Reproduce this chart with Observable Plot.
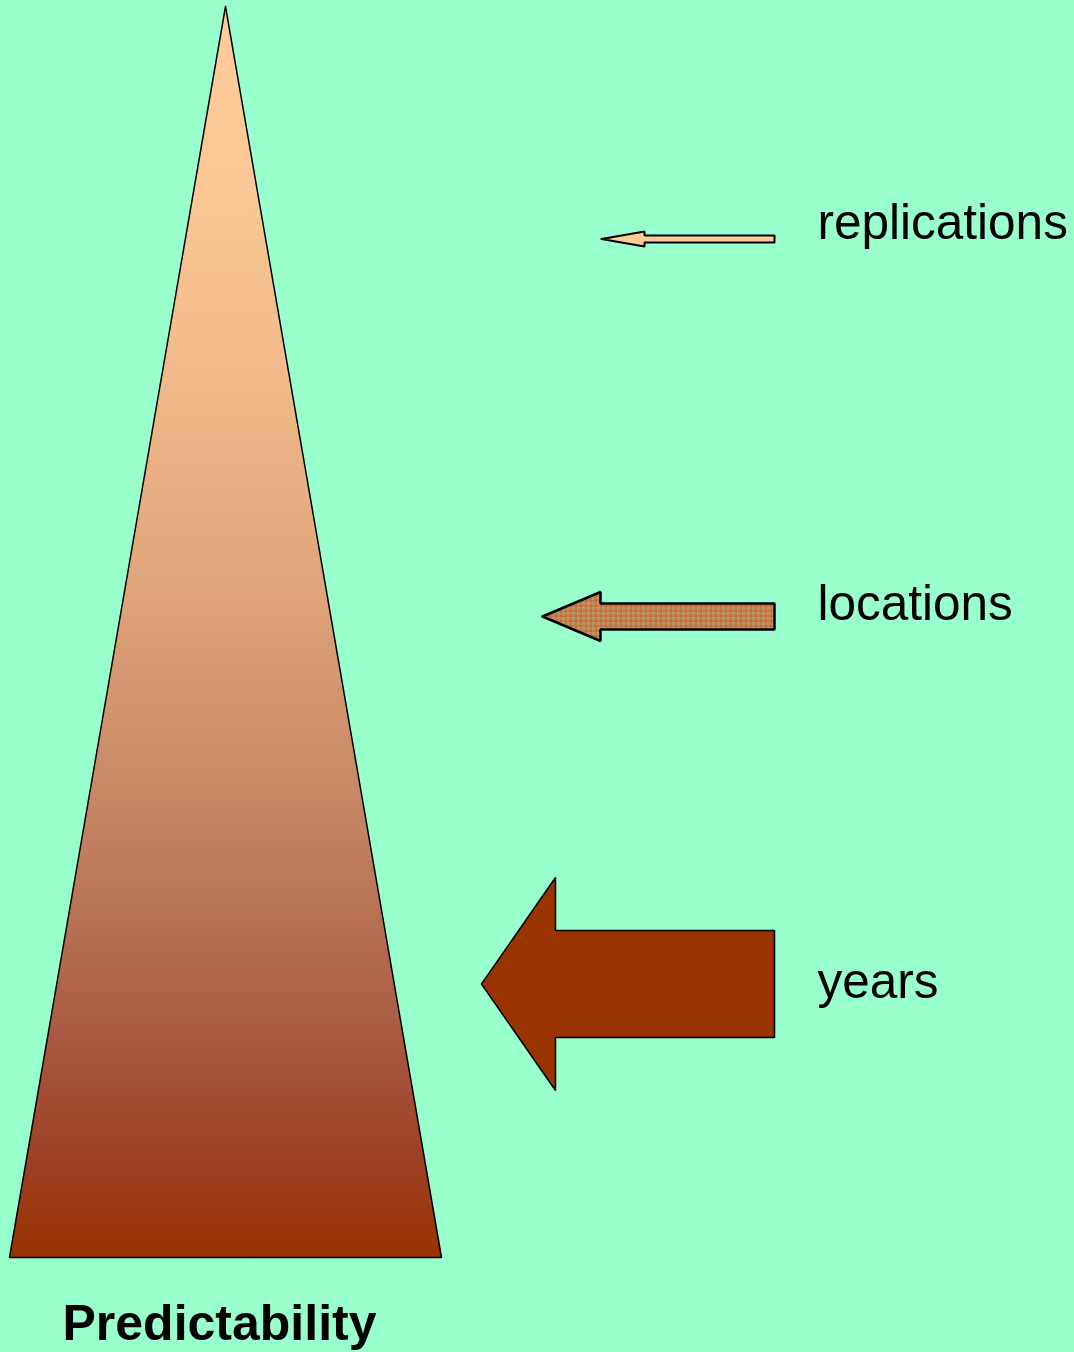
<!DOCTYPE html>
<html>
<head>
<meta charset="utf-8">
<script src="https://cdn.jsdelivr.net/npm/d3@7"></script>
<script src="https://cdn.jsdelivr.net/npm/@observablehq/plot@0.6"></script>
<style>
  html, body { margin: 0; padding: 0; background: #99FFCC; }
  #chart svg { display: block; }
</style>
</head>
<body>
<div id="chart"></div>
<script>
// ---- data ----
const factors = ["replications", "locations", "years"];
const factorY = [238.5, 616, 983.5];     // vertical centre of each arrow
const tipX = [601, 542, 481];            // arrow tip
const headBackX = [644, 600, 555];       // back of arrow head
const headHalf = [7.5, 24.5, 106.5];     // half height of the head
const shaftHalf = [3.5, 13, 53.5];       // half height of the shaft
const tailX = [774, 774, 774];           // tail end
const labelX = [817, 817, 817];
const labelY = [238, 619, 997];
const fills = ["#FFCC99", "url(#gridPattern)", "#993300"];
const strokeWidths = [2, 2.5, 1.5];

const triangleApex = [225, 6];
const triangleBase = [[9, 1257], [441, 1257]];
const titleText = "Predictability";
const titleX = 219, titleY = 1339;

// gradient stops of the triangle (offset, colour)
const gradOffsets = [0, 0.15, 0.3, 0.45, 0.55, 0.65, 0.75, 0.85, 0.93, 1];
const gradColors = ["#FFCC99", "#FBC796", "#F0B989", "#E1A77C", "#D3966F", "#C48462", "#B46C50", "#A5533A", "#9C3E20", "#993300"];

// ---- build polygons from the values ----
const triangle = [
  {x: triangleApex[0], y: triangleApex[1]},
  {x: triangleBase[1][0], y: triangleBase[1][1]},
  {x: triangleBase[0][0], y: triangleBase[0][1]},
  {x: triangleApex[0], y: triangleApex[1]}
];

function arrowPoints(i) {
  const cy = factorY[i];
  const pts = [
    [tipX[i], cy],
    [headBackX[i], cy - headHalf[i]],
    [headBackX[i], cy - shaftHalf[i]],
    [tailX[i], cy - shaftHalf[i]],
    [tailX[i], cy + shaftHalf[i]],
    [headBackX[i], cy + shaftHalf[i]],
    [headBackX[i], cy + headHalf[i]],
    [tipX[i], cy]
  ];
  return pts.map(([x, y]) => ({x, y, factor: factors[i]}));
}

const labels = factors.map((f, i) => ({label: f, x: labelX[i], y: labelY[i]}));

const W = 1074, H = 1352;
const font = "'Liberation Sans', Arial, Helvetica, sans-serif";

const marks = [
  Plot.line(triangle, {x: "x", y: "y", fill: "url(#predGrad)", stroke: "black", strokeWidth: 1.5, strokeLinejoin: "miter"}),
  ...factors.map((f, i) =>
    Plot.line(arrowPoints(i), {x: "x", y: "y", fill: fills[i], stroke: "black", strokeWidth: strokeWidths[i], strokeLinejoin: "miter"})
  ),
  Plot.text(labels, {x: "x", y: "y", text: "label", textAnchor: "start", lineAnchor: "bottom", fontSize: 49.5, fontFamily: font, fill: "black"}),
  Plot.text([titleText], {x: [titleX], y: [titleY], text: d => d, textAnchor: "middle", lineAnchor: "bottom", fontSize: 50, fontWeight: "bold", fontFamily: font, fill: "black"})
];

const chart = Plot.plot({
  width: W,
  height: H,
  margin: 0,
  x: {domain: [0, W], range: [0, W], axis: null},
  y: {domain: [0, H], range: [0, H], axis: null},
  style: {background: "#99FFCC", overflow: "visible"},
  marks
});

// gradient and pattern definitions
const svg = d3.select(chart.tagName.toLowerCase() === "svg" ? chart : chart.querySelector("svg"));
const defs = svg.insert("defs", ":first-child");
const grad = defs.append("linearGradient").attr("id", "predGrad")
  .attr("x1", 0).attr("y1", 0).attr("x2", 0).attr("y2", 1);
gradOffsets.forEach((o, i) => {
  grad.append("stop").attr("offset", o).attr("stop-color", gradColors[i]);
});

const pat = defs.append("pattern").attr("id", "gridPattern")
  .attr("patternUnits", "userSpaceOnUse").attr("width", 5).attr("height", 5);
pat.append("rect").attr("width", 5).attr("height", 5).attr("fill", "#B89C68");
pat.append("rect").attr("x", 3).attr("y", 3).attr("width", 1).attr("height", 1).attr("fill", "#7E8050");
pat.append("rect").attr("x", 0).attr("y", 0).attr("width", 5).attr("height", 0.8).attr("fill", "#D8481C");
pat.append("rect").attr("x", 0).attr("y", 0).attr("width", 0.8).attr("height", 5).attr("fill", "#D8481C");

document.getElementById("chart").appendChild(chart);
</script>
</body>
</html>
